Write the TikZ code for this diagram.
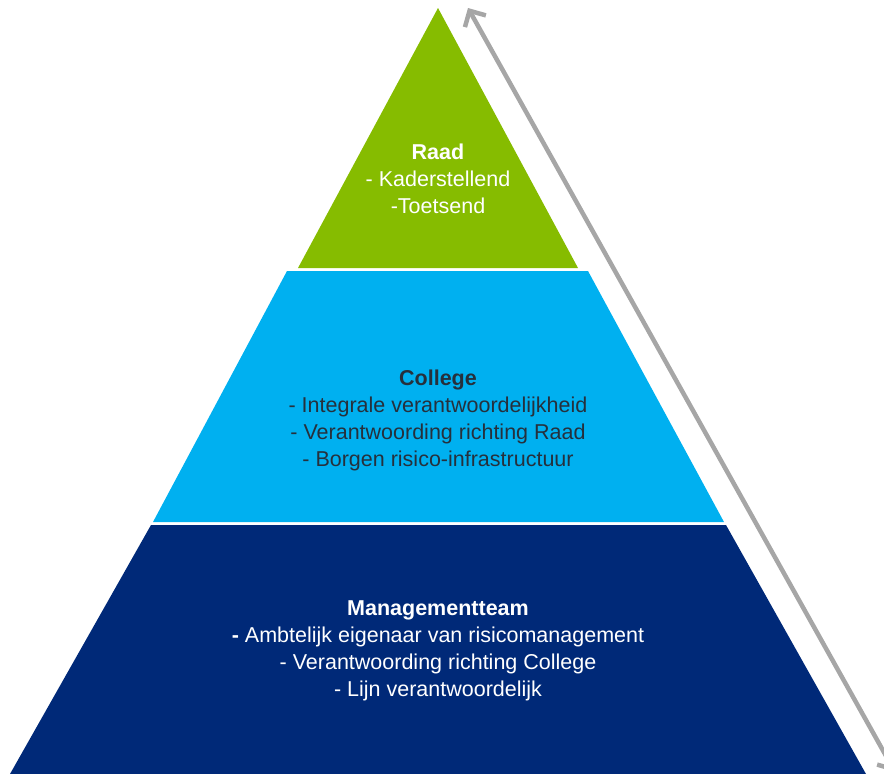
\documentclass[tikz,border=0pt]{standalone}
\usepackage{fontspec}
\setmainfont{Liberation Sans}
\usetikzlibrary{arrows.meta}
\definecolor{raadgreen}{RGB}{134,188,0}
\definecolor{collegeblue}{RGB}{0,176,240}
\definecolor{mtnavy}{RGB}{0,41,120}
\definecolor{darktext}{RGB}{38,48,60}
\definecolor{arrowgray}{RGB}{166,166,166}
\begin{document}
\begin{tikzpicture}[x=1pt,y=-1pt,
    layertext/.style={align=center,font=\fontsize{21.5}{27}\selectfont},
    sidearrow/.style={draw=arrowgray,line width=4.5pt,
      {Straight Barb[length=12pt,width=24pt]}-{Straight Barb[length=12pt,width=24pt]}}]
  \useasboundingbox (0,0) rectangle (884,774);
  \clip (0,0) rectangle (884,774);

  % Draw the three layers of the pyramid
  \fill[raadgreen] (438,8) -- (578,268) -- (298,268) -- cycle;
  \fill[collegeblue] (287,271) -- (588,271) -- (724,522) -- (153,522) -- cycle;
  \fill[mtnavy] (151,525) -- (726,525) -- (866,774) -- (10,774) -- cycle;

  % Texts of the layers
  \node[layertext,text=white] (raad) at (438,179)
    {\textbf{Raad}\\- Kaderstellend\\-Toetsend};
  \node[layertext,text=darktext] (college) at (438,420)
    {\textbf{College}\\- Integrale verantwoordelijkheid\\- Verantwoording richting Raad\\- Borgen risico-infrastructuur};
  \node[layertext,text=white] (mteam) at (438,651)
    {\textbf{Managementteam}\\\textbf{-} Ambtelijk eigenaar van risicomanagement\\- Verantwoording richting College\\- Lijn verantwoordelijk};

  % Double arrow along the right side
  \coordinate (top) at (468,8);
  \coordinate (bottom) at (895,772);
  \draw[sidearrow] (top) -- (bottom);
\end{tikzpicture}
\end{document}
